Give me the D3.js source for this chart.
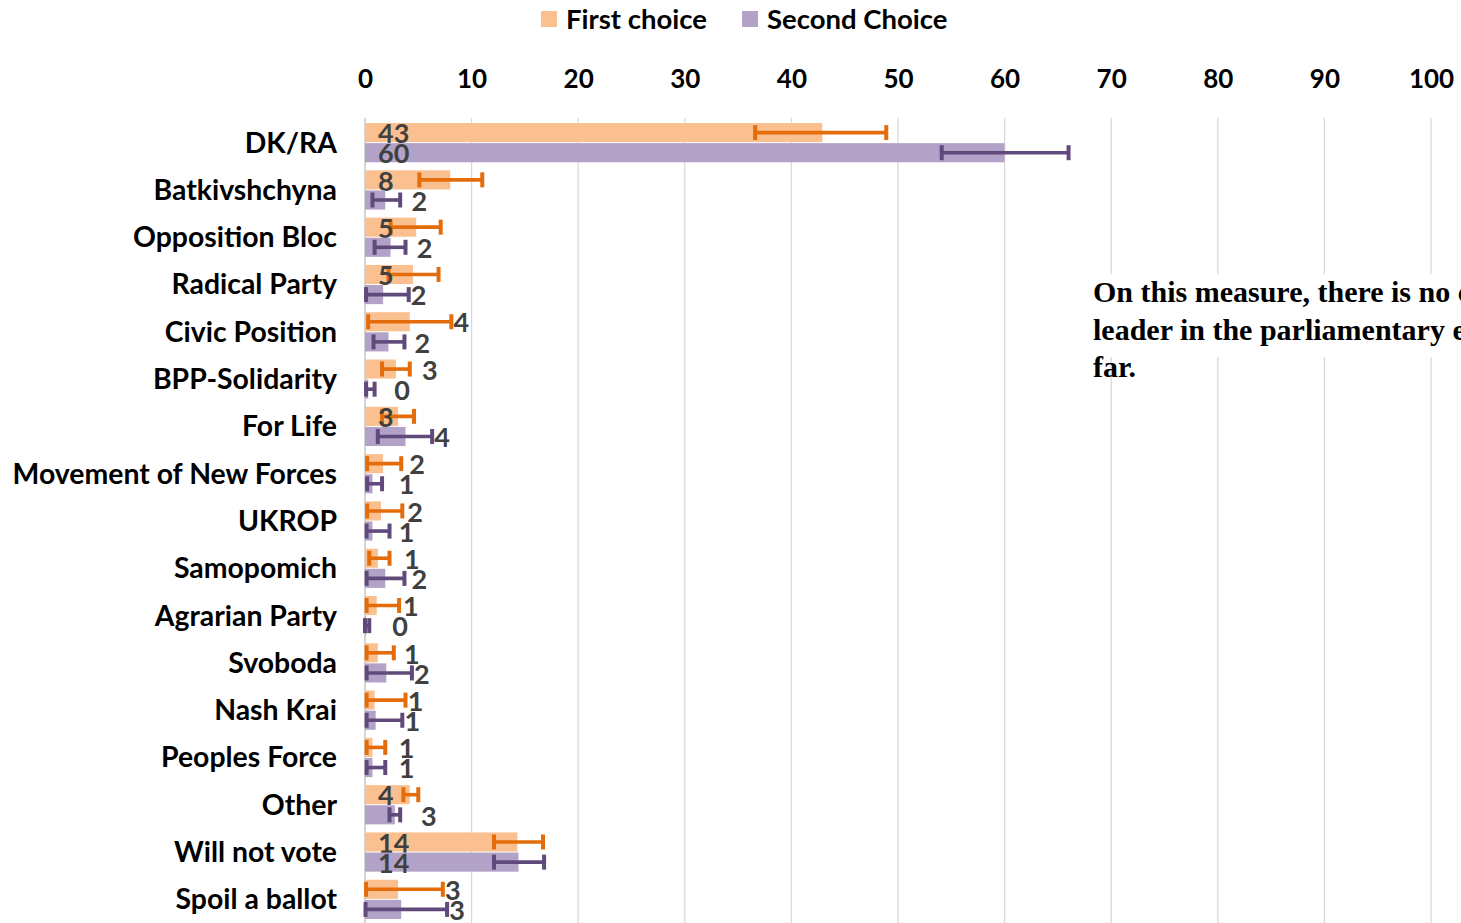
<!DOCTYPE html>
<html>
<head>
<meta charset="utf-8">
<script src="https://cdn.jsdelivr.net/npm/d3@7"></script>
<style>
  html, body { margin: 0; padding: 0; background: #fff; overflow: hidden; }
  svg { display: block; }
</style>
</head>
<body>
<svg id="chart" width="1461" height="923"></svg>
<script>
// ---- data ----
const categories = ["DK/RA", "Batkivshchyna", "Opposition Bloc", "Radical Party", "Civic Position",
  "BPP-Solidarity", "For Life", "Movement of New Forces", "UKROP", "Samopomich", "Agrarian Party",
  "Svoboda", "Nash Krai", "Peoples Force", "Other", "Will not vote", "Spoil a ballot"];
const seriesNames = ["First choice", "Second Choice"];
const firstChoice  = [42.9, 8.0, 4.8, 4.5, 4.2, 2.9, 3.1, 1.7, 1.5, 1.2, 1.1, 1.2, 0.9, 0.7, 4.2, 14.3, 3.1];
const firstLow     = [36.6, 5.1, 2.4, 2.2, 0.3, 1.6, 1.6, 0.2, 0.2, 0.4, 0.15, 0.15, 0.15, 0.15, 3.6, 12.1, 0.1];
const firstHigh    = [48.9, 11.0, 7.1, 6.9, 8.1, 4.2, 4.6, 3.4, 3.5, 2.3, 3.2, 2.7, 3.8, 1.9, 5.0, 16.7, 7.3];
const secondChoice = [60.0, 1.9, 2.4, 1.7, 2.2, 0.3, 3.8, 0.7, 0.7, 1.9, 0.1, 2.0, 1.0, 0.7, 2.8, 14.4, 3.4];
const secondLow    = [54.1, 0.7, 0.9, 0.1, 0.8, 0.1, 1.2, 0.2, 0.15, 0.15, 0.0, 0.15, 0.15, 0.15, 2.3, 12.1, 0.05];
const secondHigh   = [66.0, 3.3, 3.8, 4.1, 3.7, 0.9, 6.3, 1.6, 2.3, 3.7, 0.4, 4.4, 3.5, 1.9, 3.3, 16.8, 7.7];
const firstLabels  = ["43", "8", "5", "5", "4", "3", "3", "2", "2", "1", "1", "1", "1", "1", "4", "14", "3"];
const secondLabels = ["60", "2", "2", "2", "2", "0", "4", "1", "1", "2", "0", "2", "1", "1", "3", "14", "3"];
const tickValues = [0, 10, 20, 30, 40, 50, 60, 70, 80, 90, 100];
const noteLines = ["On this measure, there is no clear", "leader in the parliamentary elections so", "far."];

// ---- style ----
const colors = { fill: ["#FAC090", "#B3A2C7"], err: ["#E46C0A", "#604A7B"] };
const uiFont = "Lato, 'Open Sans', sans-serif";

const svg = d3.select("#chart");
const x = d3.scaleLinear().domain([0, 100]).range([365, 1431]);
const y = d3.scaleBand().domain(categories).range([119, 923]).paddingInner(0).paddingOuter(0);
const ySub = d3.scaleBand().domain([0, 1]).range([0, y.bandwidth()]).paddingInner(0.05).paddingOuter(0.2);

// gridlines
svg.append("g").selectAll("line").data(tickValues.filter(d => d > 0)).join("line")
  .attr("x1", d => x(d)).attr("x2", d => x(d))
  .attr("y1", 118).attr("y2", 923)
  .attr("stroke", "#D9D9D9").attr("stroke-width", 1.3);

// axis on top
const axis = d3.axisTop(x).tickValues(tickValues).tickSize(0).tickPadding(0);
const ag = svg.append("g").attr("transform", "translate(0,88)").call(axis);
ag.select(".domain").remove();
ag.selectAll("text")
  .attr("font-family", uiFont).attr("font-weight", "bold").attr("font-size", 26)
  .attr("fill", "#000");

// y axis line
svg.append("line").attr("x1", x(0)).attr("x2", x(0)).attr("y1", 118).attr("y2", 923)
  .attr("stroke", "#BFBFBF").attr("stroke-width", 1.3);

// category labels
svg.append("g").selectAll("text").data(categories).join("text")
  .attr("x", 337).attr("y", d => y(d) + y.bandwidth() / 2)
  .attr("dy", "0.35em").attr("text-anchor", "end")
  .attr("font-family", uiFont).attr("font-weight", "bold").attr("font-size", 28.4)
  .attr("fill", "#000").text(d => d);

const series = [
  { vals: firstChoice, lo: firstLow, hi: firstHigh, labels: firstLabels },
  { vals: secondChoice, lo: secondLow, hi: secondHigh, labels: secondLabels }
];

series.forEach((s, si) => {
  const rows = categories.map((c, i) => ({ c, v: s.vals[i], lo: s.lo[i], hi: s.hi[i], lab: s.labels[i] }));
  const g = svg.append("g");
  const by = d => y(d.c) + ySub(si);
  const bh = ySub.bandwidth();
  g.selectAll("rect").data(rows).join("rect")
    .attr("x", x(0)).attr("y", by)
    .attr("width", d => x(d.v) - x(0)).attr("height", bh)
    .attr("fill", colors.fill[si]);
  // error bars
  const eg = g.append("g").attr("stroke", colors.err[si]).attr("stroke-width", 3.6);
  eg.selectAll("line.h").data(rows).join("line").attr("class", "h")
    .attr("x1", d => x(d.lo)).attr("x2", d => x(d.hi))
    .attr("y1", d => by(d) + bh / 2).attr("y2", d => by(d) + bh / 2);
  ["lo", "hi"].forEach(k => {
    eg.selectAll("line." + k).data(rows).join("line").attr("class", k)
      .attr("stroke-width", 4)
      .attr("x1", d => x(d[k])).attr("x2", d => x(d[k]))
      .attr("y1", d => by(d) + bh / 2 - 7.5).attr("y2", d => by(d) + bh / 2 + 7.5);
  });
  // labels
  const inside = d => d.v >= 3 && d.lo >= 1.4;
  g.selectAll("text").data(rows).join("text")
    .attr("font-family", uiFont).attr("font-weight", "bold").attr("font-size", 27)
    .attr("fill", "#404040")
    .attr("y", d => by(d) + bh / 2 + 1).attr("dy", "0.36em")
    .attr("text-anchor", d => inside(d) ? "start" : "middle")
    .attr("x", d => inside(d) ? x(0) + 13 : Math.max(x(d.v) + 34, x(d.hi) + 10))
    .text(d => d.lab);
});

// legend
const legend = svg.append("g");
const legX = [541, 742];
seriesNames.forEach((n, i) => {
  legend.append("rect").attr("x", legX[i]).attr("y", 11).attr("width", 16).attr("height", 16)
    .attr("fill", colors.fill[i]);
  legend.append("text").attr("x", legX[i] + 25).attr("y", 19).attr("dy", "0.36em")
    .attr("font-family", uiFont).attr("font-weight", "bold").attr("font-size", 27.5)
    .attr("fill", "#000").text(n);
});

// annotation box
const note = svg.append("g");
note.append("rect").attr("x", 1085).attr("y", 274).attr("width", 400).attr("height", 83).attr("fill", "#fff");
note.selectAll("text").data(noteLines).join("text")
  .attr("x", 1093).attr("y", (d, i) => 302 + i * 37.5)
  .attr("font-family", "'Liberation Serif', 'Times New Roman', serif").attr("font-weight", "bold")
  .attr("font-size", 30).attr("fill", "#000").text(d => d);
</script>
</body>
</html>
